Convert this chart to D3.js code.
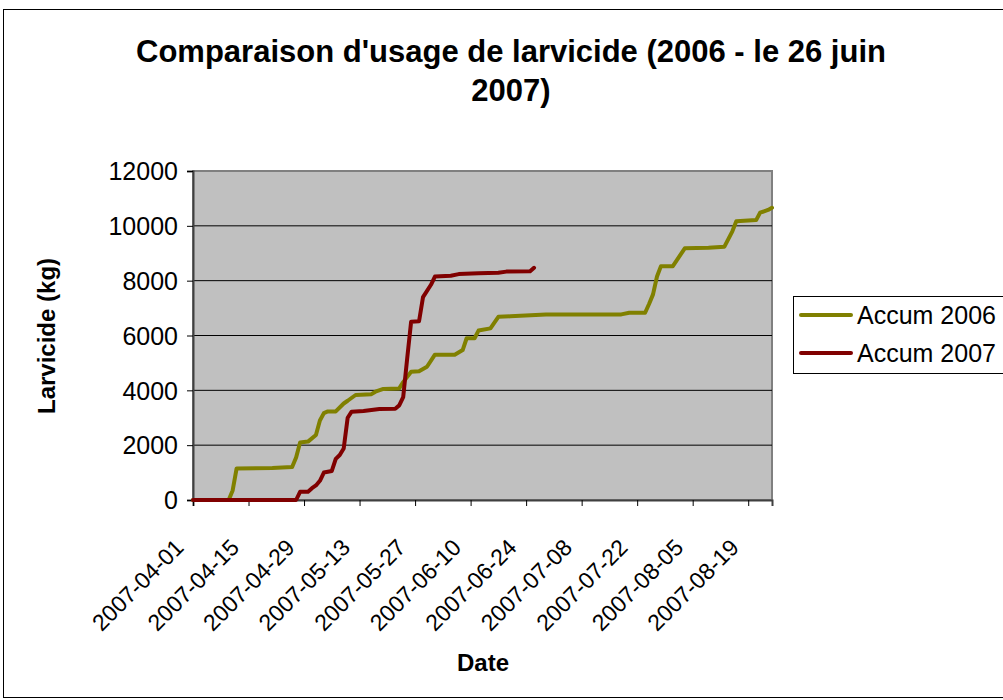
<!DOCTYPE html>
<html><head><meta charset="utf-8">
<script src="https://cdn.jsdelivr.net/npm/d3@7"></script>
<style>
html,body{margin:0;padding:0;background:#fff;}
svg text{font-family:"Liberation Sans",Arial,sans-serif;fill:#000;}
</style></head>
<body><svg id="c" width="1003" height="700"></svg>
<script>
const title1 = "Comparaison d'usage de larvicide (2006 - le 26 juin";
const title2 = "2007)";
const yTitle = "Larvicide (kg)";
const xTitle = "Date";
const seriesNames = ["Accum 2006", "Accum 2007"];
const seriesColors = ["#808000", "#800000"];
const yTicks = [0, 2000, 4000, 6000, 8000, 10000, 12000];
const xTickLabels = ["2007-04-01","2007-04-15","2007-04-29","2007-05-13","2007-05-27","2007-06-10","2007-06-24","2007-07-08","2007-07-22","2007-08-05","2007-08-19"];
const xDomain = ["2007-04-01", "2007-08-25"];

const dates2006 = ["2007-04-01","2007-04-10","2007-04-11","2007-04-12","2007-04-21","2007-04-26","2007-04-27","2007-04-28","2007-04-30","2007-05-02","2007-05-03","2007-05-04","2007-05-05","2007-05-07","2007-05-09","2007-05-10","2007-05-12","2007-05-16","2007-05-17","2007-05-19","2007-05-23","2007-05-24","2007-05-26","2007-05-28","2007-05-30","2007-06-01","2007-06-06","2007-06-08","2007-06-09","2007-06-11","2007-06-12","2007-06-15","2007-06-17","2007-06-20","2007-06-29","2007-07-18","2007-07-20","2007-07-24","2007-07-25","2007-07-26","2007-07-27","2007-07-28","2007-07-31","2007-08-03","2007-08-09","2007-08-13","2007-08-15","2007-08-16","2007-08-21","2007-08-22","2007-08-24","2007-08-25"];
const values2006 = [0,0,350,1150,1170,1200,1550,2100,2130,2370,2900,3170,3230,3230,3520,3620,3830,3860,3950,4050,4070,4300,4680,4700,4860,5300,5300,5470,5900,5900,6180,6260,6680,6700,6770,6770,6830,6830,7150,7500,8150,8530,8530,9180,9200,9240,9800,10170,10210,10480,10580,10660];

const dates2007 = ["2007-04-01","2007-04-27","2007-04-28","2007-04-30","2007-05-01","2007-05-02","2007-05-03","2007-05-04","2007-05-06","2007-05-07","2007-05-08","2007-05-09","2007-05-10","2007-05-11","2007-05-14","2007-05-18","2007-05-22","2007-05-23","2007-05-24","2007-05-25","2007-05-26","2007-05-28","2007-05-29","2007-05-31","2007-06-01","2007-06-05","2007-06-07","2007-06-12","2007-06-17","2007-06-19","2007-06-25","2007-06-26"];
const values2007 = [0,0,300,300,430,530,700,1000,1060,1500,1640,1880,3000,3220,3250,3320,3330,3450,3750,5150,6500,6520,7400,7850,8150,8180,8240,8270,8290,8330,8340,8470];

const parse = d3.utcParse("%Y-%m-%d");
const svg = d3.select("#c");
const L = 193, R = 772, T = 171, B = 500;

const x = d3.scaleUtc().domain(xDomain.map(parse)).range([L, R]);
const y = d3.scaleLinear().domain([0, 12000]).range([B, T]);

// outer border
svg.append("rect").attr("x", 3.5).attr("y", 9.5).attr("width", 1010).attr("height", 688)
  .attr("fill", "#fff").attr("stroke", "#000").attr("stroke-width", 1);

// plot area
svg.append("rect").attr("x", L).attr("y", T).attr("width", R - L).attr("height", B - T)
  .attr("fill", "#c0c0c0").attr("stroke", "#808080").attr("stroke-width", 2);

// gridlines
svg.append("g").selectAll("line").data(yTicks.filter(v => v > 0 && v < 12000)).join("line")
  .attr("x1", L).attr("x2", R).attr("y1", d => y(d)).attr("y2", d => y(d))
  .attr("stroke", "#000").attr("stroke-width", 1);

// y axis
const yAxis = d3.axisLeft(y).tickValues(yTicks).tickSize(6).tickPadding(9).tickFormat(d3.format("d"));
const gy = svg.append("g").attr("transform", `translate(${L},0)`).call(yAxis);
gy.select(".domain").attr("stroke", "#404040").attr("stroke-width", 2);
gy.selectAll(".tick line").attr("stroke", "#000");
gy.selectAll(".tick text").attr("font-size", 25).attr("font-family", "Liberation Sans, Arial, sans-serif").attr("dy", "0.35em");

// x axis
const xAxis = d3.axisBottom(x).tickValues(xTickLabels.map(parse)).tickSize(6).tickFormat(d3.utcFormat("%Y-%m-%d"));
const gx = svg.append("g").attr("transform", `translate(0,${B})`).call(xAxis);
gx.select(".domain").attr("stroke", "#404040").attr("stroke-width", 2);
gx.selectAll(".tick line").attr("stroke", "#000");
gx.selectAll(".tick text").attr("font-size", 23).attr("font-family", "Liberation Sans, Arial, sans-serif")
  .attr("text-anchor", "end").attr("dy", "0").attr("x", 0).attr("y", 0)
  .attr("transform", "translate(-8.5,49) rotate(-45)");

// lines
const line = d3.line().x(d => x(d[0])).y(d => y(d[1]));
const s2006 = dates2006.map((d, i) => [parse(d), values2006[i]]);
const s2007 = dates2007.map((d, i) => [parse(d), values2007[i]]);
svg.append("path").datum(s2006).attr("d", line).attr("fill", "none").attr("stroke", seriesColors[0])
  .attr("stroke-width", 4).attr("stroke-linejoin", "round").attr("stroke-linecap", "round");
svg.append("path").datum(s2007).attr("d", line).attr("fill", "none").attr("stroke", seriesColors[1])
  .attr("stroke-width", 4).attr("stroke-linejoin", "round").attr("stroke-linecap", "round");

// titles
svg.append("text").attr("x", 511).attr("y", 62).attr("text-anchor", "middle").attr("font-size", 31).attr("font-weight", "bold").text(title1);
svg.append("text").attr("x", 511).attr("y", 101).attr("text-anchor", "middle").attr("font-size", 31).attr("font-weight", "bold").text(title2);
svg.append("text").attr("transform", "translate(55,336) rotate(-90)").attr("text-anchor", "middle").attr("font-size", 24).attr("font-weight", "bold").text(yTitle);
svg.append("text").attr("x", 483).attr("y", 671).attr("text-anchor", "middle").attr("font-size", 24).attr("font-weight", "bold").text(xTitle);

// legend
const lg = svg.append("g");
lg.append("rect").attr("x", 793.5).attr("y", 296.5).attr("width", 220).attr("height", 77).attr("fill", "#fff").attr("stroke", "#000").attr("stroke-width", 1);
seriesNames.forEach((n, i) => {
  const yy = 315 + i * 38;
  lg.append("line").attr("x1", 801).attr("x2", 851).attr("y1", yy).attr("y2", yy).attr("stroke", seriesColors[i]).attr("stroke-width", 4).attr("stroke-linecap", "round");
  lg.append("text").attr("x", 857).attr("y", yy).attr("dy", "0.35em").attr("font-size", 25).text(n);
});
</script></body></html>
